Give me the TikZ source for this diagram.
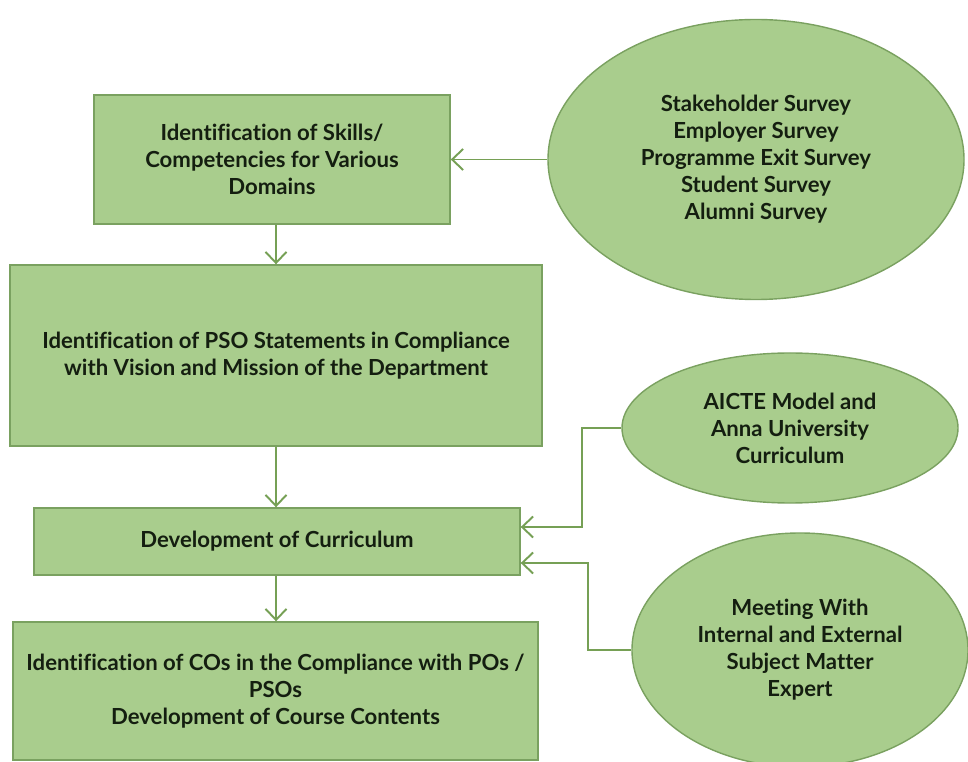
\documentclass[tikz,border=0pt]{standalone}
\usepackage{fontspec}
\setmainfont{Lato}[Ligatures=NoCommon]
\usetikzlibrary{shapes.geometric,arrows.meta,positioning,calc}
\definecolor{boxgreen}{HTML}{A9CD8D}
\definecolor{edgegreen}{HTML}{7AA160}
\definecolor{linegreen}{HTML}{76A055}
\definecolor{txt}{HTML}{141E10}

\begin{document}
\begin{tikzpicture}[x=0.2mm,y=-0.2mm,
  box/.style={draw=edgegreen,line width=0.8pt,fill=boxgreen,align=center,
    inner sep=0pt,text=txt},
  oval/.style={ellipse,draw=edgegreen,line width=0.8pt,fill=boxgreen,
    align=center,inner sep=0pt,text=txt},
  flow/.style={draw=linegreen,line width=1.1pt,
    -{Straight Barb[length=2.2mm,width=4.2mm]}}]
\tikzstyle{every node}=[font=\bfseries\fontsize{12.6}{15.4}\selectfont]
\clip (0,0) rectangle (968,762);
\fill[white] (0,0) rectangle (968,762);
% left column
\node[box,minimum width=71.2mm,minimum height=25.8mm] (skills) at (272,159.5)
  {Identification of Skills/\\Competencies for Various\\Domains};
\node[box,minimum width=106.4mm,minimum height=36.2mm] (pso) at (276,355.5)
  {Identification of PSO Statements in Compliance\\with Vision and Mission of the Department};
\node[box,minimum width=97.2mm,minimum height=13.4mm] (curr) at (277,541.5)
  {Development of Curriculum};
\node[box,minimum width=105mm,minimum height=27.6mm] (cos) at (275.5,691)
  {Identification of COs in the Compliance with POs /\\PSOs\\Development of Course Contents};
% inputs
\node[oval,minimum width=83.2mm,minimum height=56mm] (survey) at (756,159.5)
  {Stakeholder Survey\\Employer Survey\\Programme Exit Survey\\Student Survey\\Alumni Survey};
\node[oval,minimum width=67.2mm,minimum height=30mm] (aicte) at (790,428)
  {AICTE Model and\\Anna University\\Curriculum};
\node[oval,minimum width=67.2mm,minimum height=46.8mm] (meeting) at (800,650)
  {Meeting With\\Internal and External\\Subject Matter\\Expert};
% connectors
\draw[flow] (survey.west) -- (skills.east);
\draw[flow] (skills.south -| pso) -- (pso.north);
\draw[flow] (pso.south) -- (curr.north -| pso);
\draw[flow] (curr.south -| pso) -- (cos.north -| pso);
\draw[flow] (aicte.west) -- ++(-39,0) |- ([yshift=2.9mm]curr.east);
\draw[flow] (meeting.west) -- ++(-43,0) |- ([yshift=-4.3mm]curr.east);
\end{tikzpicture}
\end{document}
